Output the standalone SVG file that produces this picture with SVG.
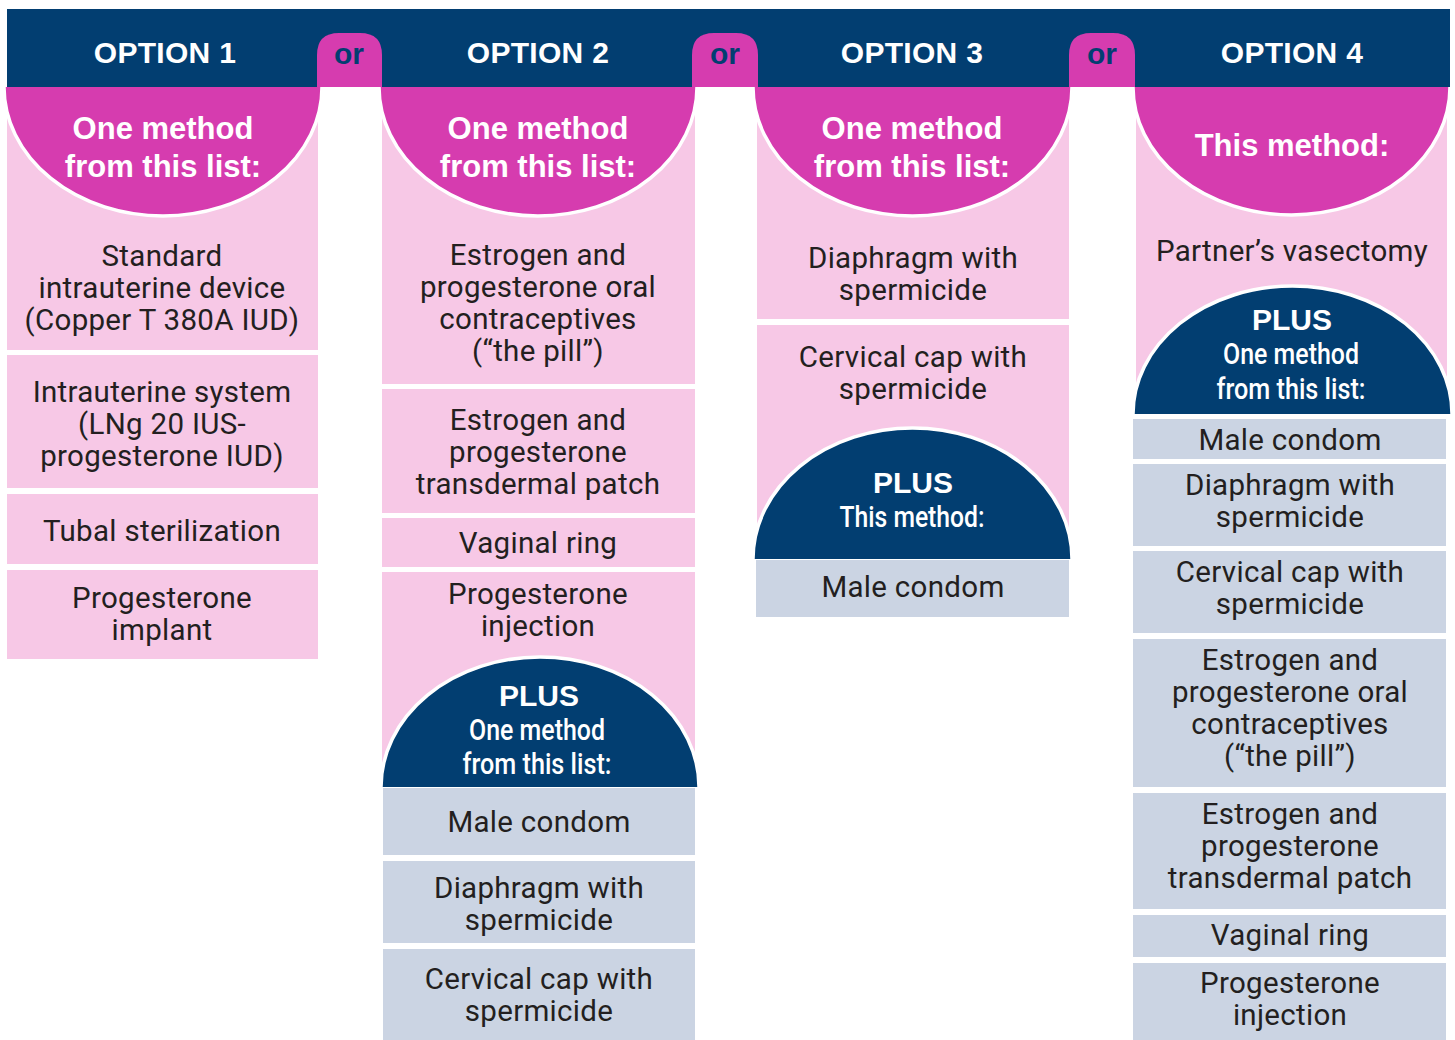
<svg xmlns="http://www.w3.org/2000/svg" width="1455" height="1040" viewBox="0 0 1455 1040">
<style>
.navy{fill:#023e71}
.mag{fill:#d63caf}
.pink{fill:#f7c8e6}
.grey{fill:#cbd4e3}
.arc{fill:none;stroke:#ffffff;stroke-width:3.5}
.hd{font-family:"Liberation Sans",Arial,sans-serif;font-weight:bold;fill:#ffffff;text-anchor:middle}
.opt{font-size:30px;letter-spacing:0.3px}
.mt{font-size:31px}
.or{font-family:"Liberation Sans",Arial,sans-serif;font-weight:bold;font-size:30px;fill:#023e71;text-anchor:middle}
.plus{font-family:"Liberation Sans",Arial,sans-serif;font-weight:bold;font-size:30px;fill:#ffffff;text-anchor:middle}
.cond{font-family:Roboto,"Liberation Sans",sans-serif;font-weight:500;font-size:29px;fill:#ffffff;text-anchor:middle}
.t{font-family:Roboto,"Liberation Sans",sans-serif;font-size:29.5px;letter-spacing:0.3px;fill:#231f20;text-anchor:middle}
</style>
<rect width="1455" height="1040" fill="#ffffff"/>

<g id="header">
  <rect class="navy" x="7" y="9" width="1443" height="78"/>
  <text class="hd opt" x="165" y="63">OPTION 1</text>
  <text class="hd opt" x="538" y="63">OPTION 2</text>
  <text class="hd opt" x="912" y="63">OPTION 3</text>
  <text class="hd opt" x="1292" y="63">OPTION 4</text>
</g>

<g id="or-tabs">
  <path class="mag" d="M317 88 V55 Q317 33 339 33 H360 Q382 33 382 55 V88 Z"/>
  <path class="mag" d="M692 88 V55 Q692 33 714 33 H736 Q758 33 758 55 V88 Z"/>
  <path class="mag" d="M1069 88 V55 Q1069 33 1091 33 H1113 Q1135 33 1135 55 V88 Z"/>
  <rect x="322" y="87" width="57" height="6" fill="#ffffff"/>
  <rect x="697" y="87" width="56" height="6" fill="#ffffff"/>
  <rect x="1073" y="87" width="60" height="6" fill="#ffffff"/>
  <text class="or" x="349" y="64">or</text>
  <text class="or" x="725" y="64">or</text>
  <text class="or" x="1102" y="64">or</text>
</g>

<!-- OPTION 1 -->
<g id="option1">
  <rect class="pink" x="7" y="87" width="311" height="263"/>
  <rect class="pink" x="7" y="355" width="311" height="133"/>
  <rect class="pink" x="7" y="494" width="311" height="70"/>
  <rect class="pink" x="7" y="570" width="311" height="89"/>
  <path class="mag" d="M4 87 A159 129 0 0 0 322 87 Z"/>
  <path class="arc" d="M4 87 A159 129 0 0 0 322 87"/>
  <text class="hd mt" x="163" y="139">One method</text>
  <text class="hd mt" x="163" y="177">from this list:</text>
  <text class="t" x="162" y="266">Standard</text>
  <text class="t" x="162" y="298">intrauterine device</text>
  <text class="t" x="162" y="330">(Copper T 380A IUD)</text>
  <text class="t" x="162" y="402">Intrauterine system</text>
  <text class="t" x="162" y="434">(LNg 20 IUS-</text>
  <text class="t" x="162" y="466">progesterone IUD)</text>
  <text class="t" x="162" y="541">Tubal sterilization</text>
  <text class="t" x="162" y="608">Progesterone</text>
  <text class="t" x="162" y="640">implant</text>
</g>

<!-- OPTION 2 -->
<g id="option2">
  <rect class="pink" x="382" y="87" width="313" height="297"/>
  <rect class="pink" x="382" y="389" width="313" height="124"/>
  <rect class="pink" x="382" y="518" width="313" height="49"/>
  <rect class="pink" x="382" y="572" width="313" height="215"/>
  <path class="mag" d="M379 87 A159 129 0 0 0 697 87 Z"/>
  <path class="arc" d="M379 87 A159 129 0 0 0 697 87"/>
  <text class="hd mt" x="538" y="139">One method</text>
  <text class="hd mt" x="538" y="177">from this list:</text>
  <text class="t" x="538" y="265">Estrogen and</text>
  <text class="t" x="538" y="297">progesterone oral</text>
  <text class="t" x="538" y="329">contraceptives</text>
  <text class="t" x="538" y="361">(“the pill”)</text>
  <text class="t" x="538" y="430">Estrogen and</text>
  <text class="t" x="538" y="462">progesterone</text>
  <text class="t" x="538" y="494">transdermal patch</text>
  <text class="t" x="538" y="553">Vaginal ring</text>
  <text class="t" x="538" y="604">Progesterone</text>
  <text class="t" x="538" y="636">injection</text>
  <path class="navy" d="M381 787 A159 130 0 0 1 699 787 Z"/>
  <path class="arc" d="M381 787 A159 130 0 0 1 699 787"/>
  <text class="plus" x="539" y="706">PLUS</text>
  <text class="cond" x="537" y="740" textLength="136" lengthAdjust="spacingAndGlyphs">One method</text>
  <text class="cond" x="537" y="774" textLength="149" lengthAdjust="spacingAndGlyphs">from this list:</text>
  <rect class="grey" x="383" y="788" width="312" height="67"/>
  <rect class="grey" x="383" y="861" width="312" height="82"/>
  <rect class="grey" x="383" y="949" width="312" height="91"/>
  <text class="t" x="539" y="832">Male condom</text>
  <text class="t" x="539" y="898">Diaphragm with</text>
  <text class="t" x="539" y="930">spermicide</text>
  <text class="t" x="539" y="989">Cervical cap with</text>
  <text class="t" x="539" y="1021">spermicide</text>
</g>

<!-- OPTION 3 -->
<g id="option3">
  <rect class="pink" x="757" y="87" width="312" height="232"/>
  <rect class="pink" x="757" y="325" width="312" height="234"/>
  <path class="mag" d="M753 87 A159.5 129 0 0 0 1072 87 Z"/>
  <path class="arc" d="M753 87 A159.5 129 0 0 0 1072 87"/>
  <text class="hd mt" x="912" y="139">One method</text>
  <text class="hd mt" x="912" y="177">from this list:</text>
  <text class="t" x="913" y="268">Diaphragm with</text>
  <text class="t" x="913" y="300">spermicide</text>
  <text class="t" x="913" y="367">Cervical cap with</text>
  <text class="t" x="913" y="399">spermicide</text>
  <path class="navy" d="M753 559 A159.5 131 0 0 1 1072 559 Z"/>
  <path class="arc" d="M753 559 A159.5 131 0 0 1 1072 559"/>
  <text class="plus" x="913" y="493">PLUS</text>
  <text class="cond" x="912" y="527" textLength="145" lengthAdjust="spacingAndGlyphs">This method:</text>
  <rect class="grey" x="756" y="560" width="313" height="57"/>
  <text class="t" x="913" y="597">Male condom</text>
</g>

<!-- OPTION 4 -->
<g id="option4">
  <rect class="pink" x="1136" y="87" width="311" height="327"/>
  <path class="mag" d="M1133 87 A158.5 128 0 0 0 1450 87 Z"/>
  <path class="arc" d="M1133 87 A158.5 128 0 0 0 1450 87"/>
  <text class="hd mt" x="1292" y="156">This method:</text>
  <text class="t" x="1292" y="261">Partner’s vasectomy</text>
  <path class="navy" d="M1133 414 A159.5 128 0 0 1 1452 414 Z"/>
  <path class="arc" d="M1133 414 A159.5 128 0 0 1 1452 414"/>
  <text class="plus" x="1292" y="330">PLUS</text>
  <text class="cond" x="1291" y="364" textLength="136" lengthAdjust="spacingAndGlyphs">One method</text>
  <text class="cond" x="1291" y="399" textLength="149" lengthAdjust="spacingAndGlyphs">from this list:</text>
  <rect class="grey" x="1133" y="419" width="313" height="40"/>
  <rect class="grey" x="1133" y="464" width="313" height="82"/>
  <rect class="grey" x="1133" y="551" width="313" height="82"/>
  <rect class="grey" x="1133" y="639" width="313" height="148"/>
  <rect class="grey" x="1133" y="793" width="313" height="116"/>
  <rect class="grey" x="1133" y="915" width="313" height="42"/>
  <rect class="grey" x="1133" y="963" width="313" height="77"/>
  <text class="t" x="1290" y="450">Male condom</text>
  <text class="t" x="1290" y="495">Diaphragm with</text>
  <text class="t" x="1290" y="527">spermicide</text>
  <text class="t" x="1290" y="582">Cervical cap with</text>
  <text class="t" x="1290" y="614">spermicide</text>
  <text class="t" x="1290" y="670">Estrogen and</text>
  <text class="t" x="1290" y="702">progesterone oral</text>
  <text class="t" x="1290" y="734">contraceptives</text>
  <text class="t" x="1290" y="766">(“the pill”)</text>
  <text class="t" x="1290" y="824">Estrogen and</text>
  <text class="t" x="1290" y="856">progesterone</text>
  <text class="t" x="1290" y="888">transdermal patch</text>
  <text class="t" x="1290" y="945">Vaginal ring</text>
  <text class="t" x="1290" y="993">Progesterone</text>
  <text class="t" x="1290" y="1025">injection</text>
</g>
</svg>
